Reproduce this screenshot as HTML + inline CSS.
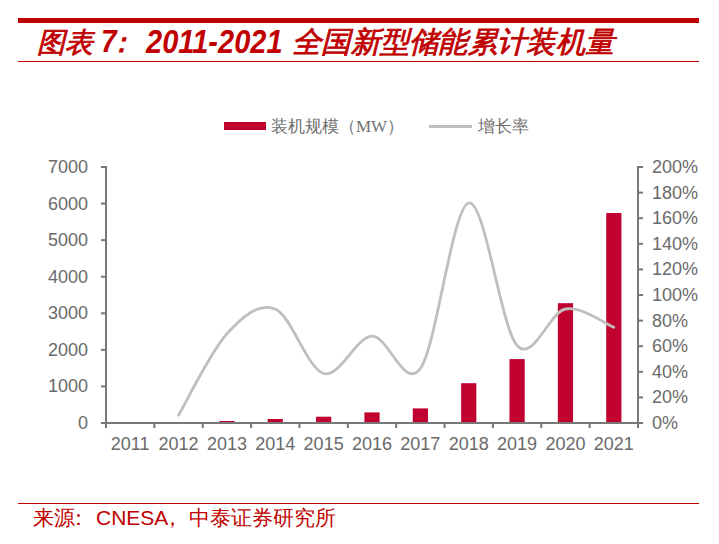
<!DOCTYPE html>
<html><head><meta charset="utf-8">
<style>
html,body{margin:0;padding:0;background:#fff;}
body{width:719px;height:544px;position:relative;overflow:hidden;font-family:"Liberation Sans",sans-serif;}
.bar{position:absolute;left:18px;width:681px;background:#C00000;}
#title{position:absolute;left:37px;top:23px;height:40px;line-height:40px;font-size:28px;font-weight:bold;font-style:italic;color:#C00000;white-space:nowrap;}
#title span{position:absolute;top:0;}
#foot{position:absolute;left:33px;top:503px;height:30px;line-height:30px;font-size:21px;color:#C00000;white-space:nowrap;}
svg{position:absolute;left:0;top:0;}
.t{font-family:"Liberation Sans",sans-serif;font-size:18px;fill:#6a6a6a;}
.lg{font-family:"Liberation Serif",serif;font-size:17px;fill:#707070;}
</style></head><body>
<div class="bar" style="top:18px;height:5px"></div>
<div id="title"><span style="left:0;font-weight:normal;-webkit-text-stroke:0.8px #C00000">图表</span><span style="left:64px;transform:scaleY(1.12);transform-origin:0 30px">7</span><span style="left:69.5px">：</span><span style="left:109px;font-size:29px;transform:scaleY(1.12);transform-origin:0 30px">2011-2021</span><span id="t4" style="left:255px;top:-1px;font-size:29.4px;letter-spacing:0.3px;font-weight:normal;-webkit-text-stroke:0.8px #C00000">全国新型储能累计装机量</span></div>
<div class="bar" style="top:61px;height:1px"></div>
<svg width="719" height="544" viewBox="0 0 719 544">
<rect x="219.31" y="421.00" width="15.20" height="2.00" fill="#C0002F"/>
<rect x="267.67" y="419.00" width="15.20" height="4.00" fill="#C0002F"/>
<rect x="316.04" y="416.70" width="15.20" height="6.30" fill="#C0002F"/>
<rect x="364.40" y="412.40" width="15.20" height="10.60" fill="#C0002F"/>
<rect x="412.76" y="408.40" width="15.20" height="14.60" fill="#C0002F"/>
<rect x="461.13" y="383.20" width="15.20" height="39.80" fill="#C0002F"/>
<rect x="509.49" y="359.10" width="15.20" height="63.90" fill="#C0002F"/>
<rect x="557.85" y="303.20" width="15.20" height="119.80" fill="#C0002F"/>
<rect x="606.22" y="213.00" width="15.20" height="210.00" fill="#C0002F"/>
<path d="M178.54,415.20 C186.60,401.63 210.78,351.50 226.90,333.80 C243.02,316.10 259.14,302.38 275.26,309.00 C291.38,315.62 307.50,368.97 323.62,373.50 C339.74,378.03 355.86,337.03 371.98,336.20 C388.10,335.37 404.22,390.70 420.34,368.50 C436.46,346.30 452.58,206.83 468.70,203.00 C484.82,199.17 500.94,327.83 517.06,345.50 C533.18,363.17 549.30,312.03 565.42,309.00 C581.54,305.97 605.72,324.25 613.78,327.30" fill="none" stroke="#BFBFBF" stroke-width="2.8" stroke-linecap="round" stroke-linejoin="round"/>
<line x1="106.00" y1="166.00" x2="106.00" y2="428.00" stroke="#787878" stroke-width="2"/>
<line x1="638.00" y1="166.00" x2="638.00" y2="428.00" stroke="#787878" stroke-width="2"/>
<line x1="101.00" y1="423.00" x2="643.00" y2="423.00" stroke="#787878" stroke-width="2"/>
<line x1="101.00" y1="423.00" x2="106.00" y2="423.00" stroke="#787878" stroke-width="2"/>
<line x1="101.00" y1="386.43" x2="106.00" y2="386.43" stroke="#787878" stroke-width="2"/>
<line x1="101.00" y1="349.86" x2="106.00" y2="349.86" stroke="#787878" stroke-width="2"/>
<line x1="101.00" y1="313.29" x2="106.00" y2="313.29" stroke="#787878" stroke-width="2"/>
<line x1="101.00" y1="276.71" x2="106.00" y2="276.71" stroke="#787878" stroke-width="2"/>
<line x1="101.00" y1="240.14" x2="106.00" y2="240.14" stroke="#787878" stroke-width="2"/>
<line x1="101.00" y1="203.57" x2="106.00" y2="203.57" stroke="#787878" stroke-width="2"/>
<line x1="101.00" y1="167.00" x2="106.00" y2="167.00" stroke="#787878" stroke-width="2"/>
<line x1="638.00" y1="423.00" x2="643.00" y2="423.00" stroke="#787878" stroke-width="2"/>
<line x1="638.00" y1="397.40" x2="643.00" y2="397.40" stroke="#787878" stroke-width="2"/>
<line x1="638.00" y1="371.80" x2="643.00" y2="371.80" stroke="#787878" stroke-width="2"/>
<line x1="638.00" y1="346.20" x2="643.00" y2="346.20" stroke="#787878" stroke-width="2"/>
<line x1="638.00" y1="320.60" x2="643.00" y2="320.60" stroke="#787878" stroke-width="2"/>
<line x1="638.00" y1="295.00" x2="643.00" y2="295.00" stroke="#787878" stroke-width="2"/>
<line x1="638.00" y1="269.40" x2="643.00" y2="269.40" stroke="#787878" stroke-width="2"/>
<line x1="638.00" y1="243.80" x2="643.00" y2="243.80" stroke="#787878" stroke-width="2"/>
<line x1="638.00" y1="218.20" x2="643.00" y2="218.20" stroke="#787878" stroke-width="2"/>
<line x1="638.00" y1="192.60" x2="643.00" y2="192.60" stroke="#787878" stroke-width="2"/>
<line x1="638.00" y1="167.00" x2="643.00" y2="167.00" stroke="#787878" stroke-width="2"/>
<line x1="106.00" y1="423.00" x2="106.00" y2="428.00" stroke="#787878" stroke-width="2"/>
<line x1="154.36" y1="423.00" x2="154.36" y2="428.00" stroke="#787878" stroke-width="2"/>
<line x1="202.73" y1="423.00" x2="202.73" y2="428.00" stroke="#787878" stroke-width="2"/>
<line x1="251.09" y1="423.00" x2="251.09" y2="428.00" stroke="#787878" stroke-width="2"/>
<line x1="299.45" y1="423.00" x2="299.45" y2="428.00" stroke="#787878" stroke-width="2"/>
<line x1="347.82" y1="423.00" x2="347.82" y2="428.00" stroke="#787878" stroke-width="2"/>
<line x1="396.18" y1="423.00" x2="396.18" y2="428.00" stroke="#787878" stroke-width="2"/>
<line x1="444.55" y1="423.00" x2="444.55" y2="428.00" stroke="#787878" stroke-width="2"/>
<line x1="492.91" y1="423.00" x2="492.91" y2="428.00" stroke="#787878" stroke-width="2"/>
<line x1="541.27" y1="423.00" x2="541.27" y2="428.00" stroke="#787878" stroke-width="2"/>
<line x1="589.64" y1="423.00" x2="589.64" y2="428.00" stroke="#787878" stroke-width="2"/>
<line x1="638.00" y1="423.00" x2="638.00" y2="428.00" stroke="#787878" stroke-width="2"/>
<text x="88" y="429.00" text-anchor="end" class="t">0</text>
<text x="88" y="392.43" text-anchor="end" class="t">1000</text>
<text x="88" y="355.86" text-anchor="end" class="t">2000</text>
<text x="88" y="319.29" text-anchor="end" class="t">3000</text>
<text x="88" y="282.71" text-anchor="end" class="t">4000</text>
<text x="88" y="246.14" text-anchor="end" class="t">5000</text>
<text x="88" y="209.57" text-anchor="end" class="t">6000</text>
<text x="88" y="173.00" text-anchor="end" class="t">7000</text>
<text x="652" y="429.00" class="t">0%</text>
<text x="652" y="403.40" class="t">20%</text>
<text x="652" y="377.80" class="t">40%</text>
<text x="652" y="352.20" class="t">60%</text>
<text x="652" y="326.60" class="t">80%</text>
<text x="652" y="301.00" class="t">100%</text>
<text x="652" y="275.40" class="t">120%</text>
<text x="652" y="249.80" class="t">140%</text>
<text x="652" y="224.20" class="t">160%</text>
<text x="652" y="198.60" class="t">180%</text>
<text x="652" y="173.00" class="t">200%</text>
<text x="130.18" y="450" text-anchor="middle" class="t">2011</text>
<text x="178.55" y="450" text-anchor="middle" class="t">2012</text>
<text x="226.91" y="450" text-anchor="middle" class="t">2013</text>
<text x="275.27" y="450" text-anchor="middle" class="t">2014</text>
<text x="323.64" y="450" text-anchor="middle" class="t">2015</text>
<text x="372.00" y="450" text-anchor="middle" class="t">2016</text>
<text x="420.36" y="450" text-anchor="middle" class="t">2017</text>
<text x="468.73" y="450" text-anchor="middle" class="t">2018</text>
<text x="517.09" y="450" text-anchor="middle" class="t">2019</text>
<text x="565.45" y="450" text-anchor="middle" class="t">2020</text>
<text x="613.82" y="450" text-anchor="middle" class="t">2021</text>
<rect x="224" y="122" width="42" height="8" fill="#C0002F"/>
<text x="271" y="132" class="lg">装机规模（MW）</text>
<line x1="429" y1="126.5" x2="472" y2="126.5" stroke="#BFBFBF" stroke-width="3"/>
<text x="478" y="132" class="lg">增长率</text>
</svg>
<div class="bar" style="top:503px;height:1px"></div>
<div id="foot">来源<span style="position:relative;left:-7px">：</span>CNESA<span style="position:relative;left:-6px">，</span>中泰证券研究所</div>
</body></html>
